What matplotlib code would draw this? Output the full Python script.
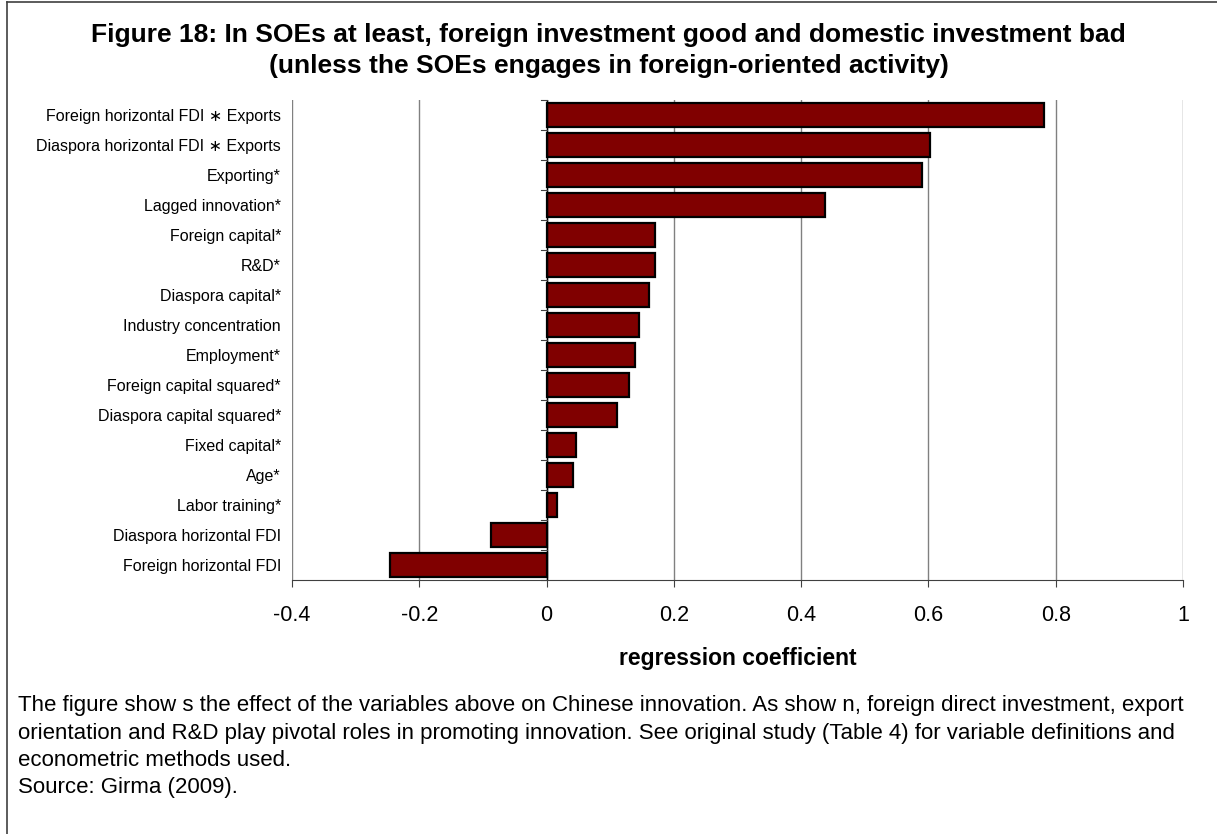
import matplotlib.pyplot as plt
from matplotlib.lines import Line2D

plt.rcParams['font.family'] = ['Liberation Sans', 'DejaVu Sans']

# Data (top to bottom as shown in the chart)
labels = ['Foreign horizontal FDI \u2217 Exports', 'Diaspora horizontal FDI \u2217 Exports',
          'Exporting*', 'Lagged innovation*', 'Foreign capital*', 'R&D*',
          'Diaspora capital*', 'Industry concentration', 'Employment*',
          'Foreign capital squared*', 'Diaspora capital squared*', 'Fixed capital*',
          'Age*', 'Labor training*', 'Diaspora horizontal FDI', 'Foreign horizontal FDI']
coefs = [0.781, 0.602, 0.590, 0.437, 0.170, 0.170, 0.161, 0.145, 0.139,
         0.129, 0.111, 0.047, 0.041, 0.017, -0.087, -0.246]
xticks = [-0.4, -0.2, 0, 0.2, 0.4, 0.6, 0.8, 1]
xtick_labels = ['-0.4', '-0.2', '0', '0.2', '0.4', '0.6', '0.8', '1']

title = ['Figure 18: In SOEs at least, foreign investment good and domestic investment bad',
         '(unless the SOEs engages in foreign-oriented activity)']
caption = ['The figure show s the effect of the variables above on Chinese innovation. As show n, foreign direct investment, export',
           'orientation and R&D play pivotal roles in promoting innovation. See original study (Table 4) for variable definitions and',
           'econometric methods used.',
           'Source: Girma (2009).']

W, H = 1217, 834
fig = plt.figure(figsize=(W / 100, H / 100), dpi=100)
ax = fig.add_axes([292 / W, 1 - 580 / H, (1183 - 292) / W, 480 / H])

n = len(labels)
ypos = list(range(n - 1, -1, -1))
ax.barh(ypos, coefs, height=0.8, color='#800000', edgecolor='black', linewidth=1.6, zorder=3)

ax.set_xlim(-0.4, 1.0)
ax.set_ylim(-0.5, n - 0.5)
ax.set_xticks(xticks)
ax.set_xticklabels(xtick_labels, fontsize=15.5)
ax.set_yticks(ypos)
ax.set_yticklabels(labels, fontsize=11.5)
ax.tick_params(axis='y', length=0, pad=8)
ax.tick_params(axis='x', length=5, direction='out', pad=13, color='#404040')
ax.grid(axis='x', color='#808080', linewidth=1, zorder=0)
for s in ['top', 'right', 'left']:
    ax.spines[s].set_visible(False)
ax.spines['bottom'].set_color('#404040')

# category axis at zero with boundary ticks
ax.axvline(0, color='black', linewidth=1, zorder=4)
for i in range(n + 1):
    ax.plot([-0.008, 0], [i - 0.5, i - 0.5], color='#404040', linewidth=0.8, zorder=4, clip_on=False)

ax.set_xlabel('regression coefficient', fontsize=16.5, fontweight='bold', labelpad=15)

for k, line in enumerate(title):
    fig.text(0.5, 1 - [35, 66][k] / H, line, ha='center', va='center', fontsize=19, fontweight='bold')

for k, line in enumerate(caption):
    fig.text(18 / W, 1 - [706, 734, 761, 788][k] / H, line, ha='left', va='center', fontsize=16)

# outer frame
fig.add_artist(Line2D([7 / W, 7 / W], [0, 1 - 2 / H], color='#404040', linewidth=1.2))
fig.add_artist(Line2D([7 / W, 1], [1 - 2 / H, 1 - 2 / H], color='#404040', linewidth=1.2))

fig.savefig('out.png', dpi=100)
